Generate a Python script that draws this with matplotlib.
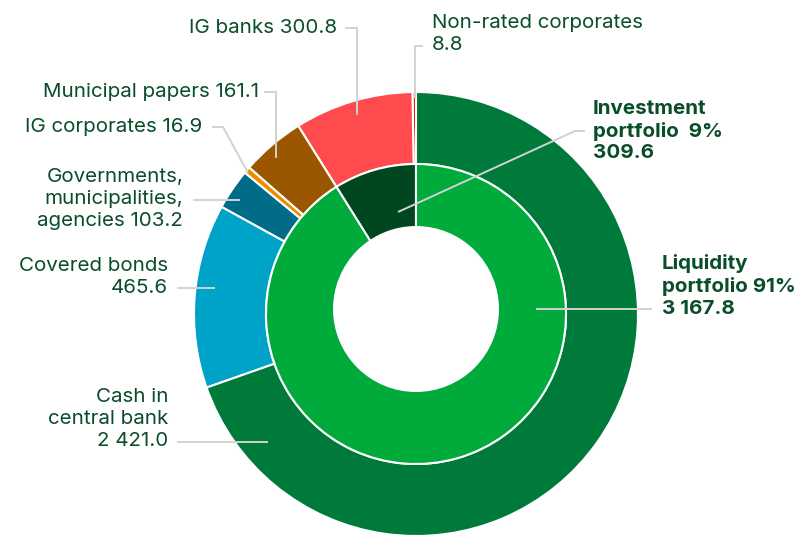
import matplotlib.pyplot as plt
from matplotlib.patches import Circle

# Outer ring: asset classes, counter-clockwise from 12 o'clock
outer_labels = [
    "Non-rated corporates",
    "IG banks",
    "Municipal papers",
    "IG corporates",
    "Governments,\nmunicipalities,\nagencies",
    "Covered bonds",
    "Cash in\ncentral bank",
]
outer_values = [8.8, 300.8, 161.1, 16.9, 103.2, 465.6, 2421.0]
outer_colors = ["#e30613", "#ff4b4e", "#9b5700", "#ec8b00", "#006c88", "#00a3c8", "#007a3b"]

# Inner ring: portfolios
inner_labels = ["Investment\nportfolio", "Liquidity\nportfolio"]
inner_values = [309.6, 3167.8]
inner_colors = ["#00461f", "#00aa3b"]

W, H = 796, 537
TEXT = "#0a4d2a"
LINE = "#d2d2d2"
FS = 14.8
LS = 1.27
plt.rcParams["font.family"] = ["Inter", "DejaVu Sans"]


def fmt(v):
    return f"{v:,.1f}".replace(",", " ")


def Y(y):
    return H - y


fig = plt.figure(figsize=(W / 100, H / 100), dpi=100)
ax = fig.add_axes([0, 0, 1, 1])

cx, cy = 416, Y(314)
r_out, r_mid = 222, 150
edge = dict(edgecolor="white", linewidth=1.5)

ax.pie(outer_values, colors=outer_colors, radius=r_out, center=(cx, cy),
       startangle=90, counterclock=True,
       wedgeprops=dict(width=r_out - r_mid, **edge))
ax.pie(inner_values, colors=inner_colors, radius=r_mid, center=(cx, cy),
       startangle=90, counterclock=True, wedgeprops=edge)
# hole sits a little above the ring centre
ax.add_patch(Circle((416, Y(309)), 83, facecolor="white", edgecolor="none", zorder=3))

ax.set_xlim(0, W)
ax.set_ylim(0, H)
ax.set_aspect("equal")
ax.axis("off")


def leader(points):
    xs = [p[0] for p in points]
    ys = [Y(p[1]) for p in points]
    ax.plot(xs, ys, color=LINE, lw=1.4, solid_capstyle="butt", zorder=5)


# text anchors and leader paths (pixel coordinates, y down)
outer_text = [
    (432, 34, "left", f"{outer_labels[0]}\n{fmt(outer_values[0])}"),
    (337, 28, "right", f"{outer_labels[1]} {fmt(outer_values[1])}"),
    (259, 92, "right", f"{outer_labels[2]} {fmt(outer_values[2])}"),
    (202, 127, "right", f"{outer_labels[3]} {fmt(outer_values[3])}"),
    (183, 199, "right", f"{outer_labels[4]} {fmt(outer_values[4])}"),
    (168, 277, "right", f"{outer_labels[5]}\n{fmt(outer_values[5])}"),
    (168, 419, "right", f"{outer_labels[6]}\n{fmt(outer_values[6])}"),
]
outer_lines = [
    [(423, 46), (415, 46), (415, 98)],
    [(345, 28), (357, 28), (357, 115)],
    [(264, 92), (276, 92), (276, 158)],
    [(212, 127), (223, 127), (248, 173)],
    [(193, 200), (240, 200)],
    [(177, 288), (215, 288)],
    [(177, 442), (268, 442)],
]
for (x, y, ha, s), pts in zip(outer_text, outer_lines):
    ax.text(x, Y(y), s, ha=ha, va="center", fontsize=FS, color=TEXT,
            linespacing=LS, zorder=6)
    leader(pts)

total = sum(inner_values)
inner_text = [
    (593, 131, f"{inner_labels[0]}  {inner_values[0] / total:.0%}\n{fmt(inner_values[0])}"),
    (662, 286, f"{inner_labels[1]} {inner_values[1] / total:.0%}\n{fmt(inner_values[1])}"),
]
inner_lines = [
    [(585, 131), (575, 131), (398, 212)],
    [(536, 309), (652, 309)],
]
for (x, y, s), pts in zip(inner_text, inner_lines):
    ax.text(x, Y(y), s, ha="left", va="center", fontsize=FS, color=TEXT,
            fontweight="bold", linespacing=LS, zorder=6)
    leader(pts)

fig.savefig("out.png", dpi=100)
